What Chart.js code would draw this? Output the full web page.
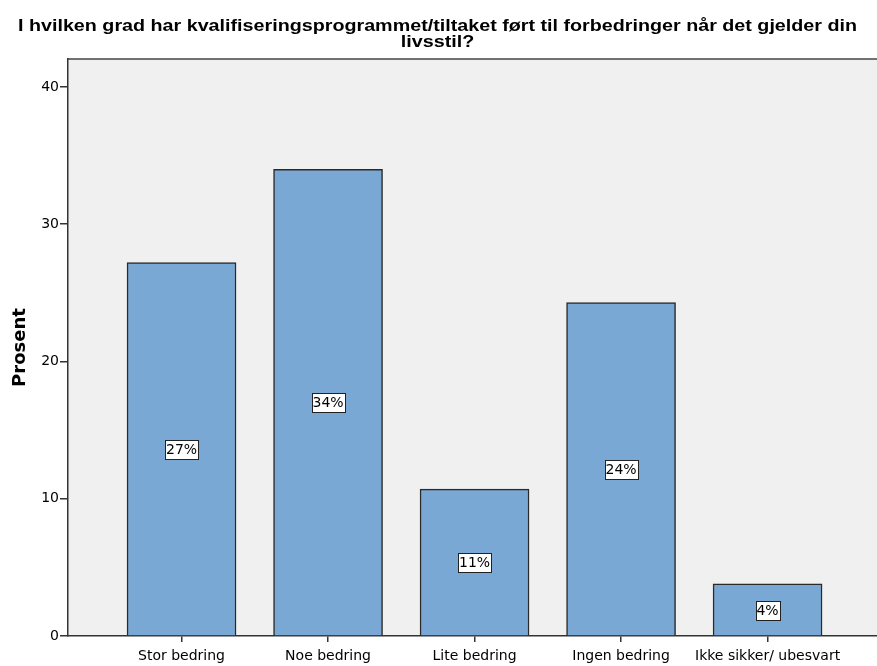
<!DOCTYPE html>
<html>
<head>
<meta charset="utf-8">
<script src="https://cdn.jsdelivr.net/npm/chart.js@4"></script>
<style>
  html, body { margin: 0; padding: 0; background: #fff; }
  #wrap { width: 877px; height: 666px; }
</style>
</head>
<body>
<div id="wrap"><canvas id="chart" width="877" height="666"></canvas></div>
<script>
// data
var categories = ['Stor bedring', 'Noe bedring', 'Lite bedring', 'Ingen bedring', 'Ikke sikker/ ubesvart'];
var percentValues = [27.2, 34.0, 10.7, 24.3, 3.8];
var yTicks = [0, 10, 20, 30, 40];
var titleLines = ['I hvilken grad har kvalifiseringsprogrammet/tiltaket ført til forbedringer når det gjelder din', 'livsstil?'];

var points = percentValues.map(function (v, i) { return { x: i + 1, y: v }; });

// gray plot background + top border line
var plotBackground = {
    id: 'plotBackground',
    beforeDraw: function (chart) {
        var a = chart.chartArea, c = chart.ctx;
        c.save();
        c.fillStyle = '#f0f0f0';
        c.fillRect(a.left, a.top, a.right - a.left, a.bottom - a.top);
        c.strokeStyle = '#444';
        c.lineWidth = 1.5;
        c.beginPath();
        c.moveTo(a.left, a.top);
        c.lineTo(a.right, a.top);
        c.stroke();
        c.restore();
    }
};

// title: bold face stretched a little to the width of the original
var titleDraw = {
    id: 'titleDraw',
    afterDraw: function (chart) {
        var c = chart.ctx;
        c.save();
        c.fillStyle = '#000';
        c.font = 'bold 16px "Liberation Sans", Arial, sans-serif';
        c.textAlign = 'center';
        c.textBaseline = 'alphabetic';
        var sx = 839 / c.measureText(titleLines[0]).width;
        c.translate(437.5, 0);
        c.scale(sx, 1);
        c.fillText(titleLines[0], 0, 31);
        c.fillText(titleLines[1], 0, 47);
        c.restore();
    }
};

// percent labels in white boxes at mid height of each bar
var barLabels = {
    id: 'barLabels',
    afterDatasetsDraw: function (chart) {
        var c = chart.ctx;
        var meta = chart.getDatasetMeta(0);
        c.save();
        c.font = '14px "DejaVu Sans", sans-serif';
        c.textAlign = 'center';
        c.textBaseline = 'middle';
        meta.data.forEach(function (bar, i) {
            var txt = Math.round(percentValues[i]) + '%';
            var cy = Math.round((bar.y + bar.base) / 2);
            var w = Math.round(c.measureText(txt).width + 2);
            var h = 19;
            var x0 = Math.round(bar.x - w / 2) + 0.5;
            var y0 = cy - 9 + 0.5;
            c.fillStyle = '#fff';
            c.fillRect(x0, y0, w, h);
            c.strokeStyle = '#222';
            c.lineWidth = 1;
            c.strokeRect(x0, y0, w, h);
            c.fillStyle = '#000';
            c.fillText(txt, bar.x, cy + 1);
        });
        c.restore();
    }
};

var ctx = document.getElementById('chart').getContext('2d');
new Chart(ctx, {
    type: 'bar',
    data: {
        datasets: [{
            data: points,
            backgroundColor: '#7aa8d5',
            borderColor: '#2a2a2a',
            borderWidth: 1.5,
            barThickness: 109
        }]
    },
    options: {
        responsive: false,
        animation: false,
        layout: { padding: { top: 59, right: 0, left: 0, bottom: 0 } },
        plugins: {
            legend: { display: false },
            tooltip: { enabled: false }
        },
        scales: {
            x: {
                type: 'linear',
                offset: false,
                min: 0.225,
                max: 5.747,
                afterBuildTicks: function (scale) {
                    scale.ticks = categories.map(function (c, i) { return { value: i + 1 }; });
                },
                afterFit: function (scale) { scale.height = 30; },
                grid: { display: true, offset: false, drawOnChartArea: false, tickLength: 6, color: '#333', lineWidth: 1.5 },
                border: { display: true, color: '#333', width: 1.5 },
                ticks: {
                    autoSkip: false,
                    maxRotation: 0,
                    padding: 6,
                    color: '#000',
                    font: { family: '"DejaVu Sans", sans-serif', size: 14 },
                    callback: function (v) { return categories[v - 1]; }
                }
            },
            y: {
                min: 0,
                max: 42.04,
                afterBuildTicks: function (scale) {
                    scale.ticks = yTicks.map(function (v) { return { value: v }; });
                },
                afterFit: function (scale) { scale.width = 68; },
                grid: { display: true, drawOnChartArea: false, tickLength: 8, color: '#333', lineWidth: 1.5 },
                border: { display: true, color: '#333', width: 1.5 },
                title: {
                    display: true,
                    text: 'Prosent',
                    color: '#000',
                    padding: { top: 10, bottom: 0 },
                    font: { family: '"DejaVu Sans", sans-serif', size: 18, weight: 'bold' }
                },
                ticks: {
                    padding: 1,
                    color: '#000',
                    font: { family: '"DejaVu Sans", sans-serif', size: 14 }
                }
            }
        }
    },
    plugins: [plotBackground, titleDraw, barLabels]
});
</script>
</body>
</html>
